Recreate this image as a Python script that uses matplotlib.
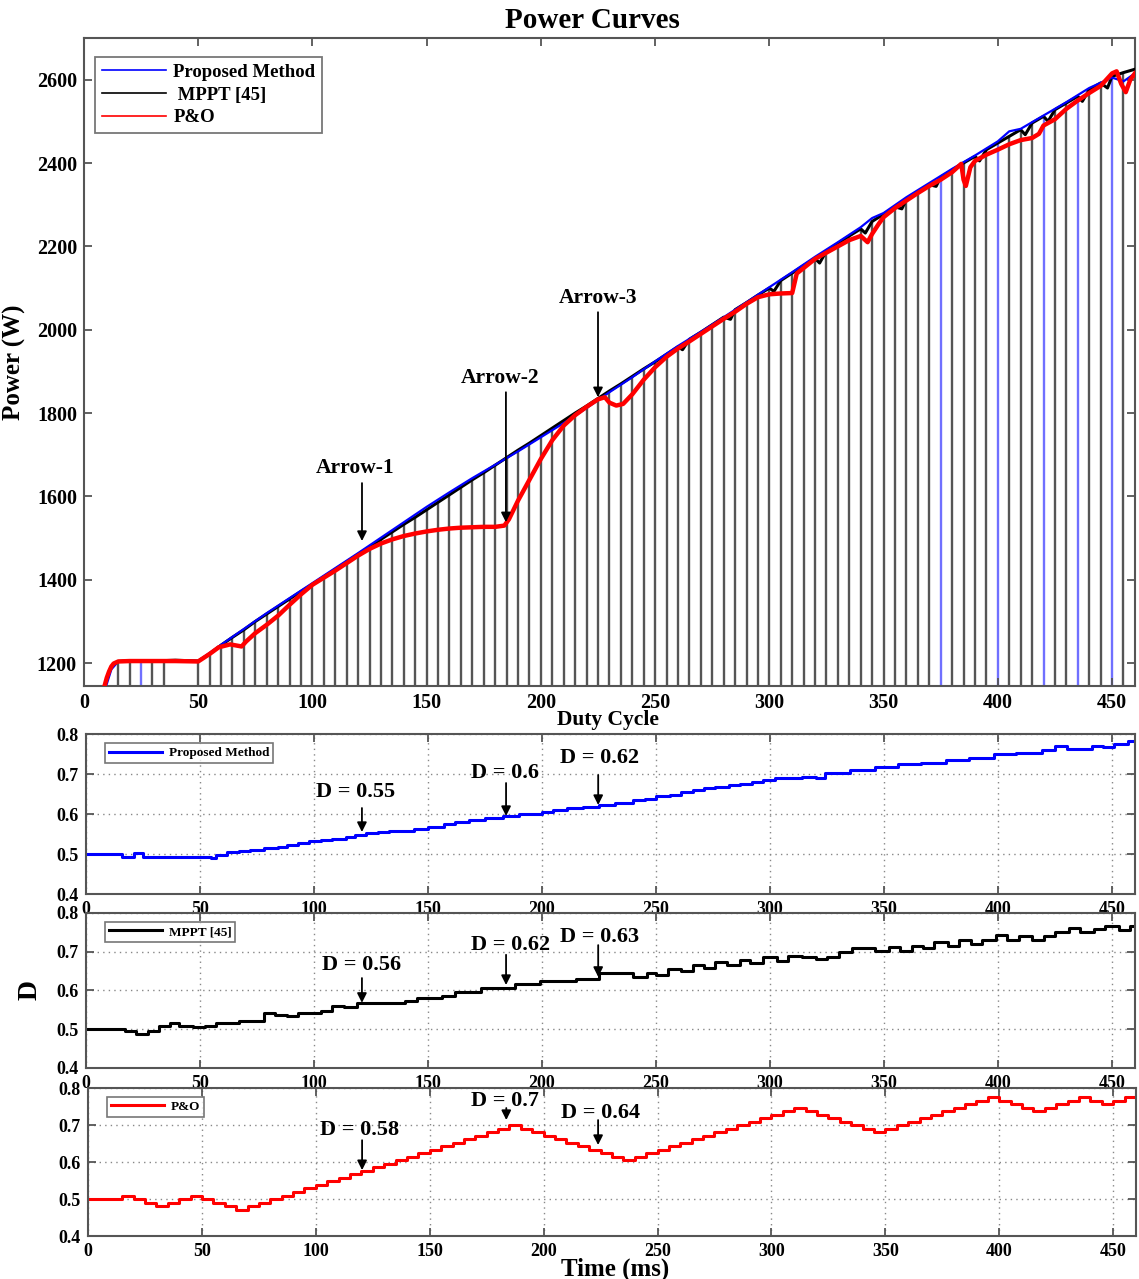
import matplotlib.pyplot as plt
import numpy as np

plt.rcParams['font.family'] = ['Liberation Serif', 'DejaVu Serif']
plt.rcParams['font.weight'] = 'bold'

# ---------------- top plot: power curves ----------------
# MPPT [45] power, 5 ms grid (also the heights of the vertical lines)
mppt_t = np.arange(15, 465, 5)
mppt_p = [1204, 1206, 1206, 1206, 1206, 1207, 1206, 1205, 1222, 1243,
          1262, 1280, 1300, 1318, 1336, 1354, 1372, 1389, 1407, 1425,
          1443, 1461, 1479, 1497, 1515, 1533, 1550, 1568, 1586, 1604,
          1622, 1640, 1657, 1675, 1693, 1711, 1728, 1746, 1764, 1782,
          1800, 1817, 1835, 1853, 1870, 1888, 1906, 1923, 1941, 1959,
          1977, 1994, 2012, 2030, 2048, 2065, 2083, 2100, 2118, 2136,
          2154, 2171, 2189, 2207, 2225, 2242, 2260, 2277, 2295, 2313,
          2330, 2348, 2366, 2383, 2400, 2416, 2432, 2448, 2464, 2480,
          2496, 2512, 2528, 2544, 2560, 2576, 2592, 2608, 2617, 2625]
# small sags of the MPPT curve
dip_t = [262, 283, 302, 322, 342, 358, 373, 392, 412, 422, 437, 448]
dip_p = [1952, 2025, 2092, 2160, 2232, 2290, 2344, 2405, 2468, 2500, 2548, 2580]

# proposed method power
prop_t = [10, 12, 15, 25, 35, 45, 50, 60, 70, 80, 90, 100, 110, 120, 130, 140,
          150, 160, 170, 180, 190, 200, 210, 220, 230, 240, 250, 260, 270, 280,
          290, 300, 310, 320, 330, 340, 345, 350, 360, 370, 380, 390, 400, 405,
          410, 420, 430, 440, 450, 455, 460]
prop_p = [1150, 1185, 1204, 1206, 1206, 1206, 1205, 1244, 1282, 1320, 1356,
          1392, 1428, 1464, 1501, 1538, 1575, 1610, 1644, 1676, 1708, 1742,
          1776, 1812, 1850, 1886, 1924, 1961, 1995, 2030, 2066, 2102, 2138,
          2175, 2210, 2246, 2268, 2280, 2318, 2352, 2386, 2418, 2452, 2476,
          2482, 2514, 2546, 2580, 2605, 2596, 2615]

# P&O power
po_t = [9, 10, 11, 12, 13, 15, 20, 30, 40, 50, 55, 59, 64, 69, 71, 75, 80, 85,
        90, 95, 100, 105, 110, 115, 120, 125, 130, 135, 140, 145, 150, 155,
        160, 165, 170, 175, 180, 184, 186, 190, 195, 200, 205, 210, 215, 220,
        225, 228, 230, 233, 236, 240, 245, 250, 255, 260, 265, 270, 275, 280,
        285, 290, 295, 300, 305, 310, 312, 315, 320, 325, 330, 335, 340, 343,
        345, 348, 350, 355, 360, 365, 370, 375, 380, 384, 385, 386, 388, 390,
        395, 400, 405, 410, 415, 418, 420, 425, 430, 435, 440, 445, 450, 452,
        454, 456, 458, 460]
po_p = [1145, 1165, 1180, 1192, 1199, 1204, 1205, 1205, 1205, 1204, 1222,
        1238, 1245, 1240, 1252, 1272, 1292, 1314, 1340, 1365, 1388, 1405,
        1422, 1440, 1458, 1474, 1487, 1497, 1505, 1511, 1516, 1520, 1523,
        1525, 1526, 1527, 1527, 1530, 1545, 1590, 1640, 1690, 1735, 1770,
        1795, 1815, 1833, 1838, 1825, 1818, 1822, 1845, 1880, 1910, 1935,
        1955, 1972, 1990, 2008, 2026, 2043, 2062, 2078, 2085, 2087, 2088,
        2135, 2148, 2170, 2185, 2200, 2215, 2225, 2210, 2230, 2255, 2270,
        2292, 2310, 2328, 2345, 2360, 2378, 2398, 2360, 2345, 2390, 2405,
        2420, 2432, 2445, 2455, 2460, 2470, 2490, 2505, 2530, 2550, 2568,
        2585, 2615, 2620, 2590, 2570, 2600, 2615]

blue_stems = [25, 375, 400, 420, 435, 450]
skip_stems = [40, 45]

# ---------------- duty cycles ----------------
prop_dt = [0, 16, 21, 25, 55, 57, 62, 67, 72, 78, 84, 88, 93, 98, 103, 108,
           114, 118, 123, 128, 133, 144, 150, 157, 162, 168, 175, 183, 190,
           200, 205, 211, 218, 225, 232, 240, 245, 250, 256, 261, 266, 271,
           276, 282, 287, 292, 297, 302, 308, 314, 320, 324, 335, 346, 356,
           366, 377, 387, 398, 408, 419, 425, 430, 441, 446, 451, 457, 460]
prop_d = [0.500, 0.4925, 0.503, 0.4925, 0.489, 0.498, 0.504, 0.508, 0.511,
          0.515, 0.518, 0.5225, 0.527, 0.5325, 0.535, 0.537, 0.543, 0.5475,
          0.552, 0.556, 0.5575, 0.563, 0.568, 0.575, 0.580, 0.585, 0.590,
          0.595, 0.599, 0.606, 0.610, 0.614, 0.618, 0.622, 0.627, 0.635,
          0.638, 0.645, 0.648, 0.656, 0.659, 0.664, 0.667, 0.672, 0.675,
          0.681, 0.684, 0.689, 0.690, 0.693, 0.691, 0.702, 0.710, 0.717,
          0.724, 0.728, 0.735, 0.739, 0.749, 0.753, 0.760, 0.771, 0.762,
          0.770, 0.767, 0.775, 0.782, 0.782]

mppt_dt = [0, 17, 22, 27, 32, 37, 41, 47, 52, 57, 67, 78, 83, 88, 93, 103,
           108, 113, 119, 140, 145, 156, 162, 173, 188, 199, 215, 225, 240,
           246, 250, 255, 261, 266, 271, 276, 281, 287, 291, 297, 303, 308,
           314, 320, 325, 330, 336, 346, 352, 357, 362, 367, 372, 378, 383,
           388, 393, 399, 404, 409, 415, 420, 425, 431, 436, 442, 447, 453,
           458, 460]
mppt_d = [0.501, 0.496, 0.487, 0.496, 0.507, 0.515, 0.507, 0.505, 0.509,
          0.515, 0.521, 0.541, 0.537, 0.534, 0.543, 0.547, 0.560, 0.557,
          0.567, 0.572, 0.580, 0.586, 0.597, 0.606, 0.617, 0.625, 0.630,
          0.644, 0.636, 0.644, 0.640, 0.655, 0.649, 0.666, 0.657, 0.674,
          0.666, 0.679, 0.671, 0.686, 0.677, 0.689, 0.686, 0.681, 0.686,
          0.698, 0.709, 0.703, 0.713, 0.702, 0.716, 0.709, 0.724, 0.716,
          0.730, 0.720, 0.731, 0.743, 0.731, 0.740, 0.731, 0.741, 0.750,
          0.760, 0.750, 0.759, 0.766, 0.756, 0.766, 0.766]

po_dt = np.arange(0, 465, 5)
po_d = [0.500, 0.500, 0.500, 0.5095, 0.500, 0.4905, 0.481, 0.4905, 0.500,
        0.5095, 0.500, 0.4905, 0.481, 0.4715, 0.481, 0.4905, 0.500, 0.5095,
        0.519, 0.5285, 0.538, 0.5475, 0.557, 0.5665, 0.576, 0.5855, 0.595,
        0.6045, 0.614, 0.6235, 0.633, 0.6425, 0.652, 0.6615, 0.671, 0.6805,
        0.690, 0.6995, 0.690, 0.6805, 0.671, 0.6615, 0.652, 0.6425, 0.633,
        0.6235, 0.614, 0.6045, 0.614, 0.6235, 0.633, 0.6425, 0.652, 0.6615,
        0.671, 0.6805, 0.690, 0.6995, 0.709, 0.7185, 0.728, 0.7375, 0.747,
        0.7375, 0.728, 0.7185, 0.709, 0.6995, 0.690, 0.6805, 0.690, 0.6995,
        0.709, 0.7185, 0.728, 0.7375, 0.747, 0.7565, 0.766, 0.7755, 0.766,
        0.7565, 0.747, 0.7375, 0.747, 0.7565, 0.766, 0.7755, 0.766, 0.7565,
        0.766, 0.7755, 0.785]

# annotations: label, text (t, y), arrow t, arrow from, arrow to
top_notes = [("Arrow-1", 118.6, 1668, 121.7, 1632, 1493),
             ("Arrow-2", 182, 1884, 184.7, 1850, 1538),
             ("Arrow-3", 225, 2076, 225, 2042, 1838)]
prop_notes = [("D = 0.55", 118, 0.655, 121, 0.615, 0.555),
              ("D = 0.6", 183.8, 0.7025, 184.2, 0.6775, 0.595),
              ("D = 0.62", 225.4, 0.740, 224.6, 0.6975, 0.6225)]
mppt_notes = [("D = 0.56", 121, 0.666, 121, 0.632, 0.568),
              ("D = 0.62", 186, 0.717, 184.2, 0.692, 0.614),
              ("D = 0.63", 225.4, 0.738, 224.6, 0.717, 0.635)]
po_notes = [("D = 0.58", 119.4, 0.686, 120.3, 0.659, 0.578),
            ("D = 0.7", 183, 0.766, 183.6, 0.746, 0.7135),
            ("D = 0.64", 225, 0.732, 223.9, 0.7135, 0.646)]

BLUE = '#0000ff'
RED = '#ff0000'
SPINE = '#555555'

fig = plt.figure(figsize=(11.39, 12.79), dpi=100)


def style_axes(ax, size):
    for s in ax.spines.values():
        s.set_color(SPINE)
        s.set_linewidth(1.5)
    ax.tick_params(direction='in', top=True, right=True, length=6,
                   width=1.3, color=SPINE, labelsize=size, pad=5)
    for lab in ax.get_xticklabels() + ax.get_yticklabels():
        lab.set_fontweight('bold')


def add_notes(ax, notes, size):
    for lab, tx, ty, ax_t, y0, y1 in notes:
        ax.text(tx, ty, lab, ha='center', va='center', fontsize=size,
                fontweight='bold', clip_on=False, zorder=6)
        ax.annotate('', xy=(ax_t, y1), xytext=(ax_t, y0),
                    arrowprops=dict(arrowstyle='-|>', color='k', lw=1.3,
                                    mutation_scale=14, shrinkA=0, shrinkB=0),
                    zorder=6)


# ---- top axes ----
ax = fig.add_axes([0.0737, 0.4636, 0.9227, 0.5067])
ylo = 1145
ax.set_xlim(0, 460)
ax.set_ylim(ylo, 2700)
for t, p in zip(mppt_t, mppt_p):
    if t in skip_stems or t > 455:
        continue
    col = '#7070ff' if t in blue_stems else '#555555'
    ax.vlines(t, ylo, p, color=col, lw=1.7, zorder=1)

bt = np.concatenate([mppt_t, dip_t])
bp = np.concatenate([mppt_p, dip_p])
order = np.argsort(bt)
ax.plot(bt[order], bp[order], color='k', lw=2.2, zorder=3, label='MPPT [45]')
ax.plot(prop_t, prop_p, color=BLUE, lw=1.6, zorder=4, label='Proposed Method')
ax.plot(po_t, po_p, color=RED, lw=3.2, zorder=5, label='P&O')

ax.set_xticks(np.arange(0, 451, 50))
ax.set_yticks(np.arange(1200, 2601, 200))
style_axes(ax, 14.5)
h, l = ax.get_legend_handles_labels()
leg = ax.legend([h[1], h[0], h[2]], ['Proposed Method', ' MPPT [45]', 'P&O'],
                loc='upper left', bbox_to_anchor=(0.002, 0.985),
                fancybox=False, edgecolor=SPINE, handlelength=3.4,
                borderpad=0.35, labelspacing=0.3, handletextpad=0.4,
                prop={'weight': 'bold', 'size': 13.5})
leg.get_frame().set_linewidth(1.3)
for line in leg.get_lines():
    line.set_linewidth(1.2)
add_notes(ax, top_notes, 15.5)
ax.set_ylabel('Power (W)', fontsize=18, fontweight='bold', labelpad=8)

fig.text(0.52, 0.984, 'Power Curves', ha='center', va='center',
         fontsize=21, fontweight='bold')
fig.text(0.534, 0.437, 'Duty Cycle', ha='center', va='center',
         fontsize=15.5, fontweight='bold')


# ---- duty cycle axes ----
def duty_axes(rect, t, d, color, label, notes):
    a = fig.add_axes(rect)
    a.plot(t, d, drawstyle='steps-post', color=color, lw=2.2, label=label)
    a.set_xlim(0, 460)
    a.set_ylim(0.4, 0.8)
    a.set_xticks(np.arange(0, 451, 50))
    a.set_yticks([0.4, 0.5, 0.6, 0.7, 0.8])
    a.set_yticklabels(['0.4', '0.5', '0.6', '0.7', '0.8'])
    a.grid(True, linestyle=(0, (1, 3)), color='#888888', lw=1.0)
    style_axes(a, 13)
    lg = a.legend(loc='upper left', bbox_to_anchor=(0.012, 0.985),
                  fancybox=False, edgecolor=SPINE, handlelength=4,
                  borderpad=0.3, handletextpad=0.5,
                  prop={'weight': 'bold', 'size': 9.5})
    lg.get_frame().set_linewidth(1.2)
    add_notes(a, notes, 16)
    return a


duty_axes([0.0755, 0.3010, 0.921, 0.1251], prop_dt, prop_d, BLUE,
          'Proposed Method', prop_notes)
a3 = duty_axes([0.0755, 0.1650, 0.921, 0.1212], mppt_dt, mppt_d, 'k',
               'MPPT [45]', mppt_notes)
a3.set_ylabel('D', fontsize=20, fontweight='bold', labelpad=10)
a4 = duty_axes([0.0773, 0.0336, 0.920, 0.1157], po_dt, po_d, RED,
               'P&O', po_notes)
fig.text(0.54, 0.0075, 'Time (ms)', ha='center', va='center',
         fontsize=18, fontweight='bold')

fig.savefig('out.png', dpi=100)
